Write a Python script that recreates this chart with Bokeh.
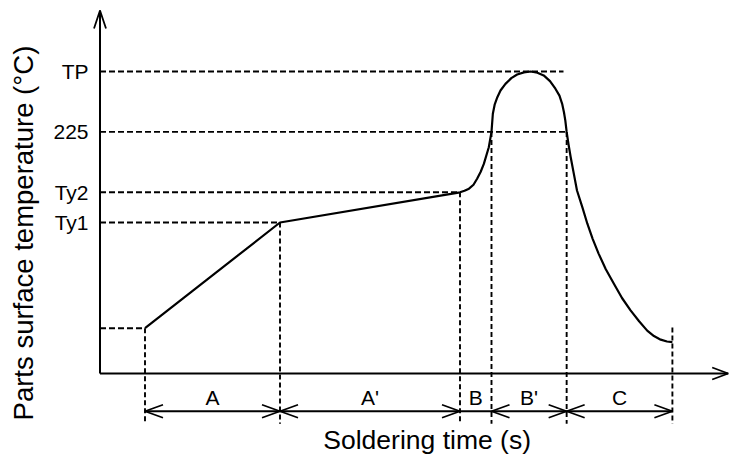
import numpy as np
from bokeh.plotting import figure
from bokeh.models import Range1d
from bokeh.embed import file_html
from bokeh.resources import INLINE
from bokeh.core.properties import value

# ---------------- data (schematic units: time "s", temperature levels) -------------
level_labels = ["TP", "225", "Ty2", "Ty1"]
level_values = [10.0, 8.0, 6.0, 5.0]

# horizontal guide lines: level and where they end in time
guide_levels = [10.0, 8.0, 6.0, 5.0, 1.5]
guide_ends = [103.0, 103.7, 80.0, 40.0, 10.0]

# profile curve
curve_t = [10.0, 40.0, 80.0, 81.0, 82.0, 83.0, 83.8, 84.6, 85.3, 86.4, 87.0, 87.3, 87.7,
           88.3, 89.0, 90.1, 91.4, 92.7, 94.2, 95.7, 97.2, 98.6, 100.0, 101.2, 102.1,
           102.7, 103.1, 103.4, 103.7, 104.1, 104.6, 105.3, 106.0, 107.2, 108.3, 109.5,
           110.8, 112.4, 114.2, 116.0, 117.9, 119.8, 121.6, 123.1, 124.6, 126.0, 127.2]
curve_y = [1.5, 5.0, 6.0, 6.05, 6.12, 6.25, 6.45, 6.68, 6.94, 7.49, 8.0, 8.6, 8.9,
           9.15, 9.37, 9.59, 9.78, 9.9, 9.97, 10.0, 9.96, 9.87, 9.68, 9.43, 9.2,
           8.93, 8.65, 8.38, 8.0, 7.6, 7.16, 6.61, 6.06, 5.5, 4.96, 4.45,
           3.97, 3.45, 2.97, 2.5, 2.09, 1.73, 1.42, 1.24, 1.12, 1.06, 1.04]

# phases along the time axis
phase_names = ["A", "A'", "B", "B'", "C"]
phase_bounds = [10.0, 40.0, 80.0, 87.0, 103.7, 127.2]
bound_tops = [1.5, 5.0, 6.0, 8.0, 8.0, 1.52]
phase_heads = [True, True, False, True, True]

x_title = "Soldering time (s)"
y_title = "Parts surface temperature (°C)"

x_axis_end = 139.6
y_axis_end = 12.02

# ---------------- layout ----------------
W, H = 730, 454
PX_X = 4.5     # pixels per time unit
PX_Y = 30.2    # pixels per level unit
ORIG_X = 99.5  # canvas px of t = 0
ORIG_Y = 373   # canvas px (from top) of level 0

FONT = value("Liberation Sans")
DASH = "6 3"
DIM_Y = -1.25
BOUND_BOTTOM = -1.66

p = figure(width=W, height=H, output_backend="svg", toolbar_location=None,
           x_range=Range1d(-ORIG_X / PX_X, (W - ORIG_X) / PX_X),
           y_range=Range1d(-(H - ORIG_Y) / PX_Y, ORIG_Y / PX_Y),
           x_axis_location=None, y_axis_location=None,
           min_border=0, outline_line_color=None,
           background_fill_color="white", border_fill_color="white")
p.grid.visible = False


def chevron(tx, ty, direction, length=18, half=6.5):
    if direction == "right":
        return [tx - length / PX_X, tx, tx - length / PX_X], [ty + half / PX_Y, ty, ty - half / PX_Y]
    if direction == "left":
        return [tx + length / PX_X, tx, tx + length / PX_X], [ty + half / PX_Y, ty, ty - half / PX_Y]
    # up
    return [tx - half / PX_X, tx, tx + half / PX_X], [ty - length / PX_Y, ty, ty - length / PX_Y]


# dashed guides (horizontal)
p.segment(x0=[0.0] * len(guide_levels), y0=guide_levels, x1=guide_ends, y1=guide_levels,
          line_color="black", line_width=1.9, line_dash=DASH)
# dashed verticals at phase boundaries
p.segment(x0=phase_bounds, y0=bound_tops, x1=phase_bounds, y1=[BOUND_BOTTOM] * len(phase_bounds),
          line_color="black", line_width=1.9, line_dash="5 3")

# axes with open arrow heads
p.segment(x0=[0, 0], y0=[0, 0], x1=[x_axis_end, 0], y1=[0, y_axis_end],
          line_color="black", line_width=2)
ax_x, ax_y = chevron(x_axis_end, 0, "right", length=16, half=6)
ay_x, ay_y = chevron(0, y_axis_end, "up", length=18, half=6)
p.multi_line(xs=[ax_x, ay_x], ys=[ax_y, ay_y], line_color="black", line_width=1.8)

# profile curve
p.line(curve_t, curve_y, line_color="black", line_width=2.2, line_join="round")

# dimension line with arrows
p.segment(x0=[phase_bounds[0]], y0=[DIM_Y], x1=[phase_bounds[-1]], y1=[DIM_Y],
          line_color="black", line_width=1.8)
hx, hy = [], []
for i, show in enumerate(phase_heads):
    if show:
        a, b = chevron(phase_bounds[i], DIM_Y, "left")
        hx.append(a); hy.append(b)
        a, b = chevron(phase_bounds[i + 1], DIM_Y, "right")
        hx.append(a); hy.append(b)
p.multi_line(xs=hx, ys=hy, line_color="black", line_width=1.8)

# phase labels
mids = [(phase_bounds[i] + phase_bounds[i + 1]) / 2 for i in range(len(phase_names))]
p.text(x=mids, y=[-0.78] * len(mids), text=phase_names, text_font=FONT,
       text_font_size="21px", text_align="center", text_baseline="alphabetic",
       text_color="black")

# level tick labels
p.text(x=[-2.55] * len(level_values), y=[v + 0.0 for v in level_values], text=level_labels,
       text_font=FONT, text_font_size="21px", text_align="right",
       text_baseline="alphabetic", text_color="black")

# axis titles
p.text(x=[72.7], y=[-2.19], text=[x_title], text_font=FONT, text_font_size="26.5px",
       text_align="center", text_baseline="alphabetic", text_color="black")
p.text(x=[-17.0], y=[4.65], text=[y_title], angle=np.pi / 2, text_font=FONT,
       text_font_size="27.5px", text_align="center", text_baseline="alphabetic",
       text_color="black")

open("out.html", "w").write(file_html(p, INLINE))
